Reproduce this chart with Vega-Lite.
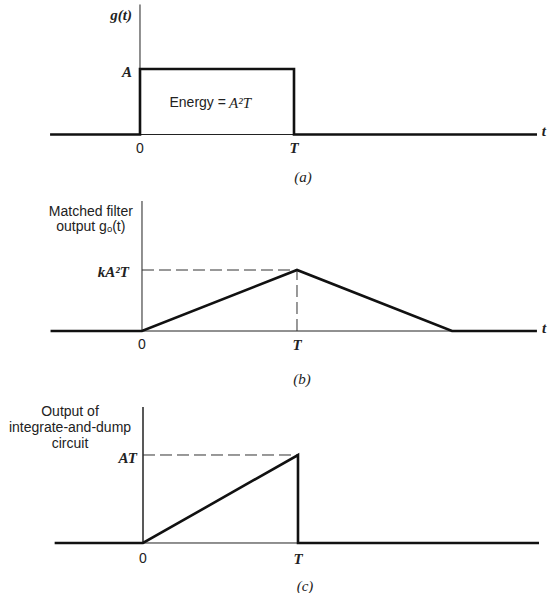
{
  "$schema": "https://vega.github.io/schema/vega-lite/v6.json",
  "padding": 0,
  "spacing": 0,
  "background": "white",
  "config": {"view": {"stroke": null}, "concat": {"spacing": 0}},
  "resolve": {"scale": {"x": "independent", "y": "independent"}},
  "datasets": {
    "curves": [
      {"panel": "a", "series": "signal", "ord": 1, "t": -0.584, "v": 0},
      {"panel": "a", "series": "signal", "ord": 2, "t": 0, "v": 0},
      {"panel": "a", "series": "signal", "ord": 3, "t": 0, "v": 1},
      {"panel": "a", "series": "signal", "ord": 4, "t": 1, "v": 1},
      {"panel": "a", "series": "signal", "ord": 5, "t": 1, "v": 0},
      {"panel": "a", "series": "signal", "ord": 6, "t": 2.578, "v": 0},
      {"panel": "a", "series": "baseline", "ord": 1, "t": 0, "v": 0},
      {"panel": "a", "series": "baseline", "ord": 2, "t": 1, "v": 0},
      {"panel": "a", "series": "axis", "ord": 1, "t": 0, "v": 0},
      {"panel": "a", "series": "axis", "ord": 2, "t": 0, "v": 1.985},
      {"panel": "b", "series": "signal", "ord": 1, "t": -0.59, "v": 0},
      {"panel": "b", "series": "signal", "ord": 2, "t": 0, "v": 0},
      {"panel": "b", "series": "signal", "ord": 3, "t": 1, "v": 1},
      {"panel": "b", "series": "signal", "ord": 4, "t": 2, "v": 0},
      {"panel": "b", "series": "signal", "ord": 5, "t": 2.548, "v": 0},
      {"panel": "b", "series": "baseline", "ord": 1, "t": 0, "v": 0},
      {"panel": "b", "series": "baseline", "ord": 2, "t": 2, "v": 0},
      {"panel": "b", "series": "axis", "ord": 1, "t": 0, "v": 0},
      {"panel": "b", "series": "axis", "ord": 2, "t": 0, "v": 2.131},
      {"panel": "b", "series": "dashH", "ord": 1, "t": 0, "v": 1},
      {"panel": "b", "series": "dashH", "ord": 2, "t": 1, "v": 1},
      {"panel": "b", "series": "dashV", "ord": 1, "t": 1, "v": 0},
      {"panel": "b", "series": "dashV", "ord": 2, "t": 1, "v": 1},
      {"panel": "c", "series": "signal", "ord": 1, "t": -0.57, "v": 0},
      {"panel": "c", "series": "signal", "ord": 2, "t": 0, "v": 0},
      {"panel": "c", "series": "signal", "ord": 3, "t": 1, "v": 1},
      {"panel": "c", "series": "signal", "ord": 4, "t": 1, "v": 0},
      {"panel": "c", "series": "signal", "ord": 5, "t": 2.555, "v": 0},
      {"panel": "c", "series": "baseline", "ord": 1, "t": 0, "v": 0},
      {"panel": "c", "series": "baseline", "ord": 2, "t": 1, "v": 0},
      {"panel": "c", "series": "axis", "ord": 1, "t": 0, "v": 0},
      {"panel": "c", "series": "axis", "ord": 2, "t": 0, "v": 1.545},
      {"panel": "c", "series": "dashH", "ord": 1, "t": 0, "v": 1},
      {"panel": "c", "series": "dashH", "ord": 2, "t": 1, "v": 1}
    ],
    "labels": [
      {"panel": "a", "role": "level", "t": -0.052, "v": 1.824, "text": "g(t)"},
      {"panel": "a", "role": "level", "t": -0.052, "v": 0.954, "text": "A"},
      {"panel": "a", "role": "zero", "t": 0, "v": -0.221, "text": "0"},
      {"panel": "a", "role": "tickT", "t": 1, "v": -0.206, "text": "T"},
      {"panel": "a", "role": "tvar", "t": 2.623, "v": 0.053, "text": "t"},
      {"panel": "a", "role": "caption", "t": 1.058, "v": -0.649, "text": "(a)"},
      {"panel": "a", "role": "energyWord", "t": 0.558, "v": 0.481, "text": "Energy ="},
      {"panel": "a", "role": "energyExpr", "t": 0.578, "v": 0.481, "text": "A²T"},
      {"panel": "b", "role": "ytitle", "t": -0.33, "v": 1.951, "text": "Matched filter"},
      {"panel": "b", "role": "ytitle", "t": -0.33, "v": 1.705, "text": "output gₒ(t)"},
      {"panel": "b", "role": "level", "t": -0.084, "v": 0.967, "text": "kA²T"},
      {"panel": "b", "role": "zero", "t": 0, "v": -0.23, "text": "0"},
      {"panel": "b", "role": "tickT", "t": 1, "v": -0.23, "text": "T"},
      {"panel": "b", "role": "tvar", "t": 2.594, "v": 0.049, "text": "t"},
      {"panel": "b", "role": "caption", "t": 1.032, "v": -0.787, "text": "(b)"},
      {"panel": "c", "role": "ytitle", "t": -0.471, "v": 1.489, "text": "Output of"},
      {"panel": "c", "role": "ytitle", "t": -0.471, "v": 1.307, "text": "integrate-and-dump"},
      {"panel": "c", "role": "ytitle", "t": -0.471, "v": 1.125, "text": "circuit"},
      {"panel": "c", "role": "level", "t": -0.039, "v": 0.966, "text": "AT"},
      {"panel": "c", "role": "zero", "t": 0, "v": -0.182, "text": "0"},
      {"panel": "c", "role": "tickT", "t": 1, "v": -0.182, "text": "T"},
      {"panel": "c", "role": "caption", "t": 1.045, "v": -0.489, "text": "(c)"}
    ]
  },
  "vconcat": [
    {
      "width": 547, "height": 193,
      "encoding": {
        "x": {"field": "t", "type": "quantitative", "scale": {"domain": [-0.9091, 2.6429], "nice": false, "zero": false}, "axis": null},
        "y": {"field": "v", "type": "quantitative", "scale": {"domain": [-0.8931, 2.0534], "nice": false, "zero": false}, "axis": null}
      },
      "layer": [
        {"data": {"name": "curves"}, "transform": [{"filter": "datum.panel === 'a' && (datum.series === 'axis' || datum.series === 'baseline')"}],
         "mark": {"type": "line", "color": "#222", "strokeWidth": 1}, "encoding": {"detail": {"field": "series"}, "order": {"field": "ord"}}},
        {"data": {"name": "curves"}, "transform": [{"filter": "datum.panel === 'a' && datum.series === 'signal'"}],
         "mark": {"type": "line", "color": "#111", "strokeWidth": 2.6, "strokeJoin": "miter"}, "encoding": {"order": {"field": "ord"}}},
        {"data": {"name": "labels"}, "transform": [{"filter": "datum.panel === 'a' && (datum.role === 'zero' || datum.role === 'ytitle')"}],
         "mark": {"type": "text", "font": "Liberation Sans", "fontSize": 14, "color": "#222", "align": "center", "baseline": "middle"}, "encoding": {"text": {"field": "text"}}},
        {"data": {"name": "labels"}, "transform": [{"filter": "datum.panel === 'a' && datum.role === 'energyWord'"}],
         "mark": {"type": "text", "font": "Liberation Sans", "fontSize": 14, "color": "#222", "align": "right", "baseline": "middle"}, "encoding": {"text": {"field": "text"}}},
        {"data": {"name": "labels"}, "transform": [{"filter": "datum.panel === 'a' && datum.role === 'energyExpr'"}],
         "mark": {"type": "text", "font": "Liberation Serif", "fontStyle": "italic", "fontSize": 15, "color": "#222", "align": "left", "baseline": "middle"}, "encoding": {"text": {"field": "text"}}},
        {"data": {"name": "labels"}, "transform": [{"filter": "datum.panel === 'a' && datum.role === 'level'"}],
         "mark": {"type": "text", "font": "Liberation Serif", "fontStyle": "italic", "fontWeight": "bold", "fontSize": 15, "color": "#222", "align": "right", "baseline": "middle"}, "encoding": {"text": {"field": "text"}}},
        {"data": {"name": "labels"}, "transform": [{"filter": "datum.panel === 'a' && (datum.role === 'tickT' || datum.role === 'tvar')"}],
         "mark": {"type": "text", "font": "Liberation Serif", "fontStyle": "italic", "fontWeight": "bold", "fontSize": 15, "color": "#222", "align": "center", "baseline": "middle"}, "encoding": {"text": {"field": "text"}}},
        {"data": {"name": "labels"}, "transform": [{"filter": "datum.panel === 'a' && datum.role === 'caption'"}],
         "mark": {"type": "text", "font": "Liberation Serif", "fontStyle": "italic", "fontSize": 15, "color": "#222", "align": "center", "baseline": "middle"}, "encoding": {"text": {"field": "text"}}}
      ]
    },
    {
      "width": 547, "height": 200,
      "encoding": {
        "x": {"field": "t", "type": "quantitative", "scale": {"domain": [-0.9161, 2.6129], "nice": false, "zero": false}, "axis": null},
        "y": {"field": "v", "type": "quantitative", "scale": {"domain": [-1.0164, 2.2623], "nice": false, "zero": false}, "axis": null}
      },
      "layer": [
        {"data": {"name": "curves"}, "transform": [{"filter": "datum.panel === 'b' && (datum.series === 'axis' || datum.series === 'baseline')"}],
         "mark": {"type": "line", "color": "#222", "strokeWidth": 1}, "encoding": {"detail": {"field": "series"}, "order": {"field": "ord"}}},
        {"data": {"name": "curves"}, "transform": [{"filter": "datum.panel === 'b' && (datum.series === 'dashH' || datum.series === 'dashV')"}],
         "mark": {"type": "line", "color": "#333", "strokeWidth": 1, "strokeDash": [12, 5]}, "encoding": {"detail": {"field": "series"}, "order": {"field": "ord"}}},
        {"data": {"name": "curves"}, "transform": [{"filter": "datum.panel === 'b' && datum.series === 'signal'"}],
         "mark": {"type": "line", "color": "#111", "strokeWidth": 2.6, "strokeJoin": "miter"}, "encoding": {"order": {"field": "ord"}}},
        {"data": {"name": "labels"}, "transform": [{"filter": "datum.panel === 'b' && (datum.role === 'zero' || datum.role === 'ytitle')"}],
         "mark": {"type": "text", "font": "Liberation Sans", "fontSize": 14, "color": "#222", "align": "center", "baseline": "middle"}, "encoding": {"text": {"field": "text"}}},
        {"data": {"name": "labels"}, "transform": [{"filter": "datum.panel === 'b' && datum.role === 'level'"}],
         "mark": {"type": "text", "font": "Liberation Serif", "fontStyle": "italic", "fontWeight": "bold", "fontSize": 15, "color": "#222", "align": "right", "baseline": "middle"}, "encoding": {"text": {"field": "text"}}},
        {"data": {"name": "labels"}, "transform": [{"filter": "datum.panel === 'b' && (datum.role === 'tickT' || datum.role === 'tvar')"}],
         "mark": {"type": "text", "font": "Liberation Serif", "fontStyle": "italic", "fontWeight": "bold", "fontSize": 15, "color": "#222", "align": "center", "baseline": "middle"}, "encoding": {"text": {"field": "text"}}},
        {"data": {"name": "labels"}, "transform": [{"filter": "datum.panel === 'b' && datum.role === 'caption'"}],
         "mark": {"type": "text", "font": "Liberation Serif", "fontStyle": "italic", "fontSize": 15, "color": "#222", "align": "center", "baseline": "middle"}, "encoding": {"text": {"field": "text"}}}
      ]
    },
    {
      "width": 547, "height": 200,
      "encoding": {
        "x": {"field": "t", "type": "quantitative", "scale": {"domain": [-0.9226, 2.6065], "nice": false, "zero": false}, "axis": null},
        "y": {"field": "v", "type": "quantitative", "scale": {"domain": [-0.5682, 1.7045], "nice": false, "zero": false}, "axis": null}
      },
      "layer": [
        {"data": {"name": "curves"}, "transform": [{"filter": "datum.panel === 'c' && datum.series === 'baseline'"}],
         "mark": {"type": "line", "color": "#222", "strokeWidth": 1}, "encoding": {"order": {"field": "ord"}}},
        {"data": {"name": "curves"}, "transform": [{"filter": "datum.panel === 'c' && datum.series === 'axis'"}],
         "mark": {"type": "line", "color": "#222", "strokeWidth": 1.5}, "encoding": {"order": {"field": "ord"}}},
        {"data": {"name": "curves"}, "transform": [{"filter": "datum.panel === 'c' && datum.series === 'dashH'"}],
         "mark": {"type": "line", "color": "#333", "strokeWidth": 1, "strokeDash": [12, 5]}, "encoding": {"order": {"field": "ord"}}},
        {"data": {"name": "curves"}, "transform": [{"filter": "datum.panel === 'c' && datum.series === 'signal'"}],
         "mark": {"type": "line", "color": "#111", "strokeWidth": 2.6, "strokeJoin": "miter"}, "encoding": {"order": {"field": "ord"}}},
        {"data": {"name": "labels"}, "transform": [{"filter": "datum.panel === 'c' && (datum.role === 'zero' || datum.role === 'ytitle')"}],
         "mark": {"type": "text", "font": "Liberation Sans", "fontSize": 14, "color": "#222", "align": "center", "baseline": "middle"}, "encoding": {"text": {"field": "text"}}},
        {"data": {"name": "labels"}, "transform": [{"filter": "datum.panel === 'c' && datum.role === 'level'"}],
         "mark": {"type": "text", "font": "Liberation Serif", "fontStyle": "italic", "fontWeight": "bold", "fontSize": 15, "color": "#222", "align": "right", "baseline": "middle"}, "encoding": {"text": {"field": "text"}}},
        {"data": {"name": "labels"}, "transform": [{"filter": "datum.panel === 'c' && datum.role === 'tickT'"}],
         "mark": {"type": "text", "font": "Liberation Serif", "fontStyle": "italic", "fontWeight": "bold", "fontSize": 15, "color": "#222", "align": "center", "baseline": "middle"}, "encoding": {"text": {"field": "text"}}},
        {"data": {"name": "labels"}, "transform": [{"filter": "datum.panel === 'c' && datum.role === 'caption'"}],
         "mark": {"type": "text", "font": "Liberation Serif", "fontStyle": "italic", "fontSize": 15, "color": "#222", "align": "center", "baseline": "middle"}, "encoding": {"text": {"field": "text"}}}
      ]
    }
  ]
}
